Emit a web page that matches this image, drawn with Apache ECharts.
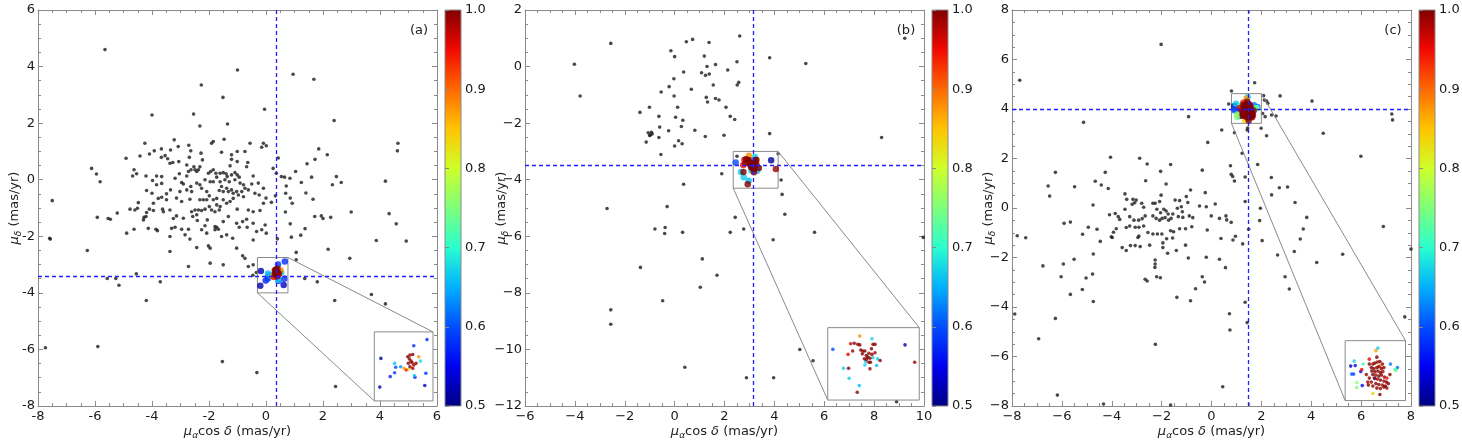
<!DOCTYPE html>
<html>
<head>
<meta charset="utf-8">
<title>Vector point diagrams</title>
<script src="https://cdn.jsdelivr.net/npm/echarts@6/dist/echarts.min.js"></script>
<style>
  html, body { margin: 0; padding: 0; background: #fff; }
  #chart { width: 1462px; height: 443px; }
</style>
</head>
<body>
<div id="chart"></div>
<script>
// ---- data: field stars [pmra, pmdec], members [pmra, pmdec, probability] ----
const fieldA = [
  [-5.65,4.6],[-1.0,3.88],[0.95,3.73],[1.68,3.55],[-2.27,3.35],[-1.51,2.91],[-0.05,2.49],[-4.0,2.29],[-2.54,2.32],[2.39,2.09],
  [4.63,1.29],[4.61,1.02],[4.19,-0.05],[4.32,-1.2],[4.57,-1.56],[3.87,-2.15],[4.92,-2.17],[2.94,-2.78],[3.7,-4.06],[4.19,-4.39],[2.41,-4.27],[2.44,-7.31],
  [2.99,-1.14],[2.27,-1.33],[1.94,-1.28],[2.0,-1.37],[1.71,-1.3],[2.18,-2.46],[1.8,-3.61],[1.36,-3.49],[1.37,-1.73],[1.22,-1.96],[1.85,1.09],[1.72,0.72],
  [2.15,0.88],[2.33,-0.18],[2.47,0.11],[2.64,-0.1],[1.65,-0.69],[1.4,-0.47],[1.44,0.56],[1.6,0.09],[1.24,-0.1],
  [-0.32,-6.82],[-1.53,-6.43],[-5.9,-5.9],[-7.74,-5.94],[-5.57,-3.49],[-5.27,-3.49],[-5.16,-3.73],[-4.55,-3.33],[-4.2,-4.27],[-3.71,-3.61],[-0.34,-3.28],[-0.46,-3.38],
  [-7.59,-2.07],[-7.57,-2.1],[-7.5,-0.74],[-6.27,-2.5],[-6.12,0.4],[-5.95,0.2],[-5.82,-0.07],[-5.92,-1.33],[-5.54,-1.37],[-5.46,-1.4],[-5.22,-1.18],
  [1.06,-2.57],[1.06,-2.83],[0.4,-2.09],[0.85,-1.56],[0.68,-1.14],[0.89,-2.03],[1.04,0.29],[0.84,0.05],[0.71,-0.22],[0.65,0.09],[0.54,0.11],[0.85,-0.65],
  [0.92,-0.83],[0.69,-0.48],[0.43,0.77],[0.25,0.4],[0.36,0.23],[0.33,-0.57],[0.19,-0.8],[0.0,-0.65],[0.01,1.2],[0.01,-1.89],
  [-2.32,1.9],[-1.35,1.97],[-4.25,1.29],[-4.91,0.76],[-4.42,0.84],[-4.09,0.91],[-3.92,1.02],[-3.67,1.09],[-3.54,0.85],[-3.67,0.79],[-3.35,1.05],[-3.22,1.41],
  [-3.08,1.17],[-3.45,0.74],[-3.37,0.58],[-3.27,0.61],[-3.06,0.64],[-2.71,1.22],[-2.64,1.02],[-2.69,0.79],[-2.28,0.94],[-2.23,0.7],[-1.91,1.29],[-1.85,1.35],
  [-1.47,1.43],[-1.56,0.97],[-1.21,0.88],[-1.01,1.0],[-1.21,0.72],[-1.26,0.49],[-1.01,0.64],[-0.74,1.0],[-0.56,1.29],[-0.64,0.61],[-0.68,0.46],[-0.09,1.29],
  [-0.15,1.15],[-4.63,0.35],[-4.68,0.13],[-4.54,0.21],[-4.21,0.13],[-3.98,-0.03],[-3.84,0.13],[-3.66,0.11],[-3.84,-0.18],[-3.66,-0.13],[-4.19,-0.38],[-4.0,-0.48],
  [-3.49,-0.5],[-3.66,-0.62],[-3.78,-0.66],[-3.35,-0.36],[-3.19,0.05],[-3.04,0.21],[-2.96,-0.1],[-2.9,-0.15],[-2.78,0.13],[-2.78,0.52],[-2.72,0.29],[-2.63,0.35],
  [-2.53,0.46],[-2.49,0.35],[-2.43,0.29],[-2.37,0.35],[-2.32,0.46],[-2.78,-0.36],[-2.64,-0.24],[-2.61,-0.42],[-3.02,-0.42],[-3.14,-0.65],[-2.96,-0.77],[-2.67,-0.69],
  [-2.32,-0.71],[-2.2,-0.71],[-2.08,-0.71],[-2.43,-0.12],[-2.32,-0.18],[-2.26,-0.3],[-2.14,0.0],[-1.96,-0.07],[-1.85,-0.07],[-2.02,0.23],[-1.94,0.29],[-1.85,0.35],
  [-1.76,0.23],[-1.73,0.09],[-1.61,0.23],[-1.5,0.25],[-1.4,0.21],[-1.36,0.11],[-1.44,0.0],[-1.29,-0.07],[-1.21,0.17],[-1.09,0.25],[-1.01,0.17],[-0.94,0.09],
  [-1.09,0.0],[-0.91,-0.12],[-0.79,-0.18],[-0.74,-0.3],[-0.62,-0.36],[-0.5,-0.15],[-0.45,0.13],[-0.27,-0.12],[-0.39,-0.48],[-0.24,-0.54],[-0.09,-0.3],[-1.61,-0.07],
  [-1.56,-0.24],[-1.64,-0.38],[-1.5,-0.42],[-1.38,-0.3],[-1.32,-0.42],[-1.21,-0.36],[-1.15,-0.48],[-1.03,-0.42],[-0.97,-0.54],[-0.85,-0.42],[-0.79,-0.6],[-1.15,-0.66],
  [-1.26,-0.77],[-1.38,-0.83],[-1.5,-0.71],[-1.61,-0.95],[-1.73,-0.89],[-1.64,-1.07],[-1.79,-1.13],[-1.91,-1.07],[-1.99,-0.95],[-2.14,-1.04],[-2.26,-1.09],[-2.37,-1.07],
  [-2.49,-1.07],[-2.61,-1.13],[-2.43,-1.24],[-2.9,-1.36],[-3.14,-1.28],[-3.25,-1.37],[-3.6,-1.13],[-3.63,-1.04],[-3.95,-1.09],[-4.09,-1.04],[-4.19,-1.16],[-4.21,-1.3],
  [-4.3,-1.42],[-4.51,-1.01],[-4.48,-0.81],[-4.6,-1.07],[-4.77,-1.04],[-4.89,-1.89],[-4.63,-1.75],[-4.28,-1.33],[-3.86,-1.75],[-3.81,-1.8],[-4.13,-1.72],[-3.31,-1.72],
  [-3.19,-1.68],[-2.96,-1.75],[-2.72,-1.75],[-2.57,-1.3],[-2.41,-1.44],[-2.06,-1.42],[-2.14,-1.63],[-2.26,-1.77],[-2.08,-1.89],[-1.79,-1.66],[-1.73,-1.68],[-1.67,-1.75],
  [-1.79,-1.77],[-1.56,-2.01],[-1.38,-1.95],[-1.17,-2.07],[-1.03,-1.54],[-0.94,-1.68],[-0.82,-1.48],[-0.68,-1.4],[-0.66,-1.68],[-0.45,-1.54],[-0.33,-1.83],[-0.45,-2.13],
  [-0.15,-1.77],[-0.03,-1.6],[-0.09,-0.83],[-0.21,-1.09],[-0.45,-1.13],[-0.62,-1.07],[-1.01,-1.04],[-1.32,-1.3],[-1.5,-1.48],[-2.08,-0.42],[-1.99,-0.57],[-1.85,-0.71],
  [-1.73,-0.66],[-3.37,-1.07],[-3.49,-0.71],[-3.95,-0.83],[-3.37,-2.54],[-2.43,-2.4],[-2.02,-2.34],[-1.96,-2.42],[-2.72,-3.07],[-1.96,-2.95],[-1.5,-3.01],[-1.03,-2.42],
  [-0.82,-2.69],[-0.74,-2.78],[-0.62,-3.07],[-0.45,-3.01],[-2.67,-2.1],[-2.84,-1.95],[-3.37,-2.01]
];
const membersA = [
  [0.66,-2.89,0.58],[0.42,-3.0,0.58],[-0.18,-3.23,0.52],
  [0.31,-3.2,1.0],[0.35,-3.17,0.99],[0.4,-3.16,1.0],[0.34,-3.24,0.99],[0.37,-3.28,1.0],[0.39,-3.31,0.98],[0.32,-3.32,1.0],
  [0.42,-3.35,0.99],[0.35,-3.38,1.0],[0.4,-3.41,0.98],[0.46,-3.32,0.99],
  [0.51,-3.2,0.88],[0.54,-3.28,0.68],[0.07,-3.32,0.66],[0.18,-3.38,0.64],[0.09,-3.39,0.6],[0.24,-3.41,0.87],[0.28,-3.44,0.94],
  [0.32,-3.43,0.82],[0.07,-3.49,0.59],[0.43,-3.54,0.67],[0.44,-3.57,0.57],[0.64,-3.5,0.58],[-0.01,-3.56,0.57],[-0.2,-3.75,0.52],[0.62,-3.72,0.53]
];

const fieldB = [
  [-4.02,0.08],[-3.79,-1.04],[-2.56,0.82],[-0.15,0.56],[0.0,0.35],[0.47,0.88],[0.72,0.96],[1.38,0.85],[2.61,1.08],[1.19,0.37],[1.3,0.0],[1.64,0.07],
  [2.13,-0.12],[2.5,0.17],[3.81,0.31],[5.26,0.11],[9.23,1.0],
  [0.36,-0.19],[1.08,-0.22],[1.24,-0.31],[1.39,-0.26],[-0.03,-0.43],[-0.22,-0.71],[-0.54,-0.9],[-0.02,-1.04],[0.67,-0.8],[1.55,-0.65],[2.57,-0.56],
  [2.51,-0.65],[1.27,-1.09],[1.32,-1.25],[1.64,-1.13],[1.78,-1.18],
  [0.12,-1.44],[-1.01,-1.44],[-1.39,-1.62],[-0.63,-1.76],[0.04,-1.79],[0.33,-1.9],[0.27,-2.12],[-0.6,-2.14],[-0.24,-2.27],[-1.06,-2.34],[-0.98,-2.42],
  [-0.9,-2.38],[-0.93,-2.32],[-1.0,-2.44],[-0.63,-2.51],[-1.14,-2.67],[0.16,-2.62],[0.3,-2.73],[0.0,-2.81],[-0.55,-3.11],
  [0.81,-2.25],[1.23,-2.47],[1.98,-2.43],[2.06,-1.44],[2.23,-1.76],[2.41,-1.87],[3.81,-2.37],[8.3,-2.51],[4.15,-3.08],[2.5,-3.17],[1.89,-3.79],
  [4.27,-4.01],[4.31,-4.52],[4.42,-5.22],[0.36,-4.16],[-0.3,-4.95],[-2.71,-5.02],[-0.79,-5.74],[-0.38,-5.69],[-0.4,-5.9],[0.32,-5.86],[2.43,-5.33],
  [2.23,-5.86],[2.77,-5.74],[3.95,-6.12],[5.61,-5.86],[9.97,-6.04],
  [1.11,-6.8],[-1.37,-7.1],[1.7,-7.38],[1.03,-7.8],[-0.48,-8.28],[-2.56,-8.6],[-2.56,-9.11],[5.02,-10.0],[5.55,-10.4],[0.41,-10.63],[2.88,-11.0],
  [3.97,-11.0],[8.9,-11.85]
];
const membersB = [
  [2.98,-3.15,0.88],[3.22,-3.2,0.67],[2.45,-3.39,0.6],[3.87,-3.31,0.51],[2.8,-3.29,0.96],[2.87,-3.28,1.0],[2.94,-3.3,0.99],[2.98,-3.31,1.0],
  [2.84,-3.42,0.99],[3.0,-3.4,1.0],[3.04,-3.42,0.98],[3.08,-3.42,1.0],[3.03,-3.47,1.0],[3.24,-3.3,0.99],[3.28,-3.3,1.0],[3.21,-3.38,1.0],
  [3.28,-3.45,0.98],[3.22,-3.48,1.0],[3.16,-3.46,0.99],[3.11,-3.5,1.0],[3.14,-3.53,1.0],[3.18,-3.55,0.99],[3.11,-3.57,1.0],[3.16,-3.62,0.98],
  [3.19,-3.62,1.0],[3.07,-3.56,0.99],
  [2.75,-3.48,0.95],[3.38,-3.59,1.0],[4.06,-3.62,0.99],[3.24,-3.54,0.67],[3.33,-3.56,0.67],[3.1,-3.61,0.66],[3.08,-3.67,0.67],[3.31,-3.68,0.66],
  [2.66,-3.73,0.67],[2.76,-3.73,1.0],[3.18,-3.74,0.99],[2.77,-3.91,0.67],[2.97,-4.04,0.66],[2.93,-4.16,1.0]
];

const fieldC = [
  [-4.05,2.05],[-6.26,1.44],[-6.55,0.89],[-6.49,0.48],[-7.45,-1.2],[-5.49,0.86],[-4.66,1.08],[-4.42,0.93],[-4.26,1.44],[-4.14,0.79],[-4.75,0.12],
  [-5.91,-0.62],[-5.66,-0.57],[-4.94,-0.78],[-4.59,-0.86],[-5.17,-1.06],[-4.46,-1.35],[-4.02,-1.16],[-4.09,-0.27],[-3.86,-0.22],[-3.74,-0.35],
  [-3.68,-0.46],[-3.93,-0.98],[-3.98,-1.19],[-3.82,-0.84],[-3.47,0.57],[-3.4,0.35],[-3.15,0.35],[-3.08,0.21],[-3.02,0.32],[-3.18,0.15],[-2.8,0.19],
  [-2.72,0.03],[-3.47,-0.05],[-3.28,-0.35],[-3.11,-0.49],[-2.92,-0.49],[-2.78,-0.43],[-2.66,-0.32],[-2.88,2.01],[-2.58,1.78],[-2.64,1.1],[-2.04,1.48],
  [-1.64,1.76],[-1.82,0.97],[-2.02,0.52],[-2.35,0.19],[-2.26,0.19],[-2.08,0.26],[-1.91,-0.05],[-1.82,-0.12],[-2.04,-0.19],[-1.74,-0.24],[-2.19,-0.05],
  [-2.35,-0.32],[-2.22,-0.42],[-2.08,-0.49],[-1.98,-0.42],[-1.86,-0.39],[-1.72,-0.49],[-1.62,-0.42],[-1.55,-0.24],[-1.46,0.32],[-1.28,0.3],[-1.37,-0.01],
  [-1.21,0.05],[-1.17,-0.15],[-1.33,-0.35],[-1.15,-0.38],[-1.01,0.46],[-0.84,0.73],[-0.95,0.22],[-0.89,-0.32],[-0.75,-0.39],[-0.48,0.08],[-0.37,1.53],
  [-0.25,0.62],[-0.21,0.05],[-0.01,-0.32],[0.15,0.16],[0.32,-0.42],[-0.17,-0.89],[-0.79,-0.76],[-1.04,-0.84],[-1.28,-0.84],[-1.52,-0.96],[-1.64,-0.92],
  [-1.8,-1.24],[-1.56,-1.21],[-1.95,-1.41],[-1.95,-1.6],[-1.76,-1.83],[-1.41,-1.72],[-1.04,-1.5],[-0.93,-2.02],[-0.21,-1.99],[0.32,-2.07],[-0.37,-2.78],
  [-0.28,-2.99],[-0.64,-3.26],[-0.84,-3.75],[-1.39,-3.61],[-2.05,-2.82],[-2.2,-2.78],[-2.66,-2.88],[-2.58,-2.95],[-2.26,-2.1],[-2.26,-2.26],[-2.27,-2.4],
  [-2.48,-1.5],[-2.35,-1.05],[-2.17,-1.05],[-1.99,-1.05],[-2.55,-0.99],[-2.72,-0.73],[-2.91,-0.78],[-2.91,-1.13],[-2.95,-1.19],[-3.06,-1.52],[-3.25,-1.52],
  [-2.86,-1.56],[-3.42,-1.72],[-3.58,-1.6],[-3.28,-0.73],[-3.42,-0.79],[-3.06,-0.78],[-4.74,-1.86],[-4.77,-2.67],[-4.74,-3.78],[-5.03,-2.83],[-5.18,-3.29],
  [-5.66,-3.49],[-6.03,-2.78],[-5.94,-2.26],[-5.51,-2.07],[-6.76,-2.34],
  [-7.69,5.16],[-2.02,6.61],[-5.13,3.46],[-0.92,3.69],[-0.15,2.65],[0.41,3.15],[0.92,3.04],[0.8,4.73],[1.73,5.06],[0.69,4.2],[1.45,3.23],[1.43,3.15],
  [1.99,3.22],[2.21,2.92],[2.05,3.82],[2.15,3.69],[2.12,4.36],[2.21,4.32],[2.26,4.23],[2.09,4.54],[2.41,3.76],[2.59,3.72],[2.75,4.53],[4.03,4.32],
  [4.48,3.02],[7.23,3.8],[7.26,3.56],[5.99,2.09],[6.89,-0.75],[5.26,-1.87],[4.22,-2.2],[8.0,-1.66],[7.75,-4.4],[-7.89,-4.28],[-7.79,-1.12],[-6.93,-5.28],
  [-6.26,-4.46],[-6.18,-7.56],[-4.33,-7.92],[-2.25,-5.51],[-1.64,-7.96],[0.45,-7.22],[0.72,-4.27],[0.74,-4.93],[1.35,-3.81],[1.43,-4.63],[1.49,-0.86],
  [1.35,0.26],[1.35,1.25],[1.23,2.21],[0.76,1.71],[0.79,1.36],[0.85,1.27],[0.92,1.09],[1.85,1.76],[2.4,1.23],[2.41,0.53],[2.72,0.82],[3.05,0.85],
  [3.35,0.22],[1.96,-0.01],[1.93,-0.51],[2.03,-1.32],[0.96,-1.14],[0.86,-1.29],[1.25,-1.45],[0.38,-1.23],[0.56,-2.41],[0.58,-0.32],[0.61,-0.48],
  [0.79,-0.58],[3.82,-0.38],[3.68,-0.85],[3.56,-1.25],[3.32,-1.76],[2.65,-1.9],[2.95,-2.78],[3.12,-3.27]
];
const membersC = [
  [1.45,4.47,0.67],[1.41,4.42,0.87],[0.98,4.21,0.67],[0.91,4.11,0.52],[1.0,4.12,0.56],[1.16,4.15,0.71],[1.28,4.25,0.95],[1.43,4.29,1.0],
  [1.13,4.04,0.95],[1.11,4.0,0.56],[0.93,3.95,0.6],[0.97,3.95,0.6],[1.7,4.15,0.62],[1.84,4.08,0.62],[1.79,4.04,0.71],[1.81,4.02,0.74],
  [1.39,3.86,0.6],[1.49,4.11,0.88],[1.03,3.78,0.76],[1.03,3.68,0.75],[1.14,3.72,0.56],[1.35,3.56,0.84],[1.49,3.54,1.0],[1.69,3.94,1.0],[1.63,3.87,0.95],
  [1.28,4.15,1.0],[1.35,4.15,0.99],[1.39,4.17,1.0],[1.44,4.19,0.98],[1.49,4.2,1.0],[1.54,4.15,0.99],[1.32,4.08,1.0],[1.37,4.06,0.99],
  [1.43,4.08,1.0],[1.47,4.1,0.98],[1.52,4.06,1.0],[1.57,4.08,0.99],[1.33,4.01,1.0],[1.39,4.0,1.0],[1.45,4.01,0.99],[1.5,3.98,1.0],
  [1.55,4.0,0.98],[1.35,3.94,1.0],[1.41,3.93,0.99],[1.47,3.91,1.0],[1.52,3.93,1.0],[1.58,3.89,0.99],[1.38,3.87,1.0],[1.44,3.85,0.98],
  [1.5,3.83,1.0],[1.57,3.81,0.99],[1.62,3.79,1.0],[1.32,3.79,0.99],[1.41,3.76,1.0],[1.47,3.74,1.0],[1.54,3.73,0.98],[1.6,3.71,1.0],
  [1.35,3.71,0.99],[1.43,3.67,1.0],[1.5,3.66,0.99],[1.57,3.69,1.0],[1.63,3.67,0.98],[1.26,3.73,1.0],[1.25,3.79,0.99],[1.28,3.87,1.0],
  [1.22,3.94,0.99],[1.66,3.76,1.0]
];

// reference lines (cluster mean), zoom boxes and inset extents, all in data units
const crossA = [0.35, -3.4],  zoomBoxA = [-0.3, 0.77, -4.0, -2.75], insetBoxA = [3.8, 5.86, -7.82, -5.38];
const crossB = [3.17, -3.48], zoomBoxB = [2.35, 4.15, -4.3, -3.0],  insetBoxB = [6.14, 9.81, -11.79, -9.23];
const crossC = [1.48, 4.0],   zoomBoxC = [0.8, 2.0, 3.42, 4.62],    insetBoxC = [5.36, 7.78, -7.78, -5.36];

const probRange = [0.5, 1.0];
// jet colormap sampled at 0, 0.1, ... 1
const jetColors = ['#000080', '#0000f1', '#004cff', '#00b0ff', '#29ffce', '#7dff7a',
                   '#ceff29', '#ffc400', '#ff6800', '#f10800', '#800000'];

const panels = [
  { tag: '(a)', field: fieldA, members: membersA, xr: [-8, 6], yr: [-8, 6], cross: crossA, box: zoomBoxA, inset: insetBoxA, left: 38, uMinus: false },
  { tag: '(b)', field: fieldB, members: membersB, xr: [-6, 10], yr: [-12, 2], cross: crossB, box: zoomBoxB, inset: insetBoxB, left: 525, uMinus: true },
  { tag: '(c)', field: fieldC, members: membersC, xr: [-8, 8], yr: [-8, 8], cross: crossC, box: zoomBoxC, inset: insetBoxC, left: 1012, uMinus: true }
];

const FONT = 'DejaVu Sans';
const FRAME = '#8a8a8a';
const W = 399, H = 396, TOP = 10;

const rich = {
  t: { fontFamily: FONT, fontSize: 13, color: '#222' },
  g: { fontFamily: FONT, fontSize: 13, color: '#222', fontStyle: 'italic' },
  s: { fontFamily: FONT, fontSize: 9, color: '#222', fontStyle: 'italic', padding: [8, 0, 0, 0] }
};

const option = {
  animation: false,
  backgroundColor: '#fff',
  grid: [], xAxis: [], yAxis: [], series: [], graphic: [],
  visualMap: [{
    type: 'continuous', show: false, min: probRange[0], max: probRange[1],
    dimension: 2, seriesIndex: [], inRange: { color: jetColors }
  }]
};

function frameAxis(p, gridIndex, isX, pos, withLabels) {
  const fmt = v => p.uMinus ? String(v).replace('-', '\u2212') : String(v);
  const r = isX ? p.xr : p.yr;
  const ax = {
    gridIndex, type: 'value', position: pos, min: r[0], max: r[1], interval: 2,
    axisLine: { show: true, onZero: false, lineStyle: { color: FRAME, width: 1 } },
    axisTick: { show: true, inside: true, length: 5, lineStyle: { color: FRAME } },
    minorTick: { show: true, splitNumber: 4, length: 3, lineStyle: { color: FRAME } },
    splitLine: { show: false },
    axisLabel: { show: withLabels, fontFamily: FONT, fontSize: 13, color: '#1a1a1a', margin: isX ? 4 : 3, formatter: fmt }
  };
  if (withLabels) {
    ax.nameLocation = 'middle';
    ax.nameMoveOverlap = false;
    ax.nameTextStyle = { rich };
    if (isX) {
      ax.name = '{g|\u03bc}{s|\u03b1}{t|cos }{g|\u03b4}{t| (mas/yr)}';
      ax.nameGap = 17;
    } else {
      ax.name = '{g|\u03bc}{s|\u03b4}{t| (mas/yr)}';
      ax.nameGap = 15;
    }
  }
  return ax;
}

panels.forEach(p => {
  const g = option.grid.length;
  const xi = option.xAxis.length;
  const yi = option.yAxis.length;
  const sx = W / (p.xr[1] - p.xr[0]);
  const sy = H / (p.yr[1] - p.yr[0]);
  const [ix0, ix1, iy0, iy1] = p.inset;
  const [bx0, bx1, by0, by1] = p.box;

  // main axes
  option.grid.push({ left: p.left, top: TOP, width: W, height: H, outerBoundsMode: 'none' });
  // inset axes
  option.grid.push({
    left: p.left + (ix0 - p.xr[0]) * sx, top: TOP + (p.yr[1] - iy1) * sy,
    width: (ix1 - ix0) * sx, height: (iy1 - iy0) * sy,
    show: true, borderColor: FRAME, borderWidth: 1, backgroundColor: '#fff', z: 3, outerBoundsMode: 'none'
  });
  // colorbar
  option.grid.push({
    left: p.left + W + 8, top: TOP, width: 16, height: H,
    show: true, borderColor: FRAME, borderWidth: 1, outerBoundsMode: 'none',
    backgroundColor: new echarts.graphic.LinearGradient(0, 1, 0, 0,
      jetColors.map((c, k) => ({ offset: k / (jetColors.length - 1), color: c })))
  });

  option.xAxis.push(frameAxis(p, g, true, 'bottom', true));
  option.xAxis.push(frameAxis(p, g, true, 'top', false));
  option.xAxis.push({ gridIndex: g + 1, type: 'value', min: bx0, max: bx1, show: false });
  option.xAxis.push({ gridIndex: g + 2, type: 'value', min: 0, max: 1, show: false });

  option.yAxis.push(frameAxis(p, g, false, 'left', true));
  option.yAxis.push(frameAxis(p, g, false, 'right', false));
  option.yAxis.push({ gridIndex: g + 1, type: 'value', min: by0, max: by1, show: false });
  option.yAxis.push({
    gridIndex: g + 2, type: 'value', position: 'right', min: probRange[0], max: probRange[1], interval: 0.1,
    axisLine: { show: false },
    axisTick: { show: true, inside: false, length: 4, lineStyle: { color: FRAME } },
    splitLine: { show: false },
    axisLabel: { fontFamily: FONT, fontSize: 13, color: '#1a1a1a', margin: 4, formatter: v => v.toFixed(1) }
  });

  const drawOrder = p.members.slice().sort((a, b) => a[2] - b[2]);

  option.series.push({
    type: 'scatter', xAxisIndex: xi, yAxisIndex: yi, data: p.field,
    symbolSize: 3.6, itemStyle: { color: '#1c1c1c' }, z: 2, silent: true,
    markLine: {
      silent: true, symbol: ['none', 'none'], label: { show: false },
      lineStyle: { color: '#1f1fff', type: [4, 3], width: 1.3 },
      data: [{ xAxis: p.cross[0] }, { yAxis: p.cross[1] }]
    }
  });
  option.series.push({
    type: 'lines', coordinateSystem: 'cartesian2d', xAxisIndex: xi, yAxisIndex: yi,
    polyline: true, silent: true, z: 3,
    lineStyle: { color: FRAME, width: 1, opacity: 1 },
    data: [
      { coords: [[bx0, by0], [bx1, by0], [bx1, by1], [bx0, by1], [bx0, by0]] },
      { coords: [[bx1, by1], [ix1, iy1]] },
      { coords: [[bx0, by0], [ix0, iy0]] }
    ]
  });
  option.visualMap[0].seriesIndex.push(option.series.length);
  option.series.push({
    type: 'scatter', xAxisIndex: xi, yAxisIndex: yi, data: drawOrder,
    symbolSize: 6.5, z: 4, silent: true
  });
  option.visualMap[0].seriesIndex.push(option.series.length);
  option.series.push({
    type: 'scatter', xAxisIndex: xi + 2, yAxisIndex: yi + 2, data: drawOrder,
    symbolSize: 3.6, z: 6, silent: true
  });

  option.graphic.push({
    type: 'text', x: p.left + W - 18, y: TOP + 21,
    style: { text: p.tag, fontFamily: FONT, fontSize: 13, fill: '#222', align: 'center', verticalAlign: 'middle' }
  });
});

const chart = echarts.init(document.getElementById('chart'));
chart.setOption(option);
</script>
</body>
</html>
